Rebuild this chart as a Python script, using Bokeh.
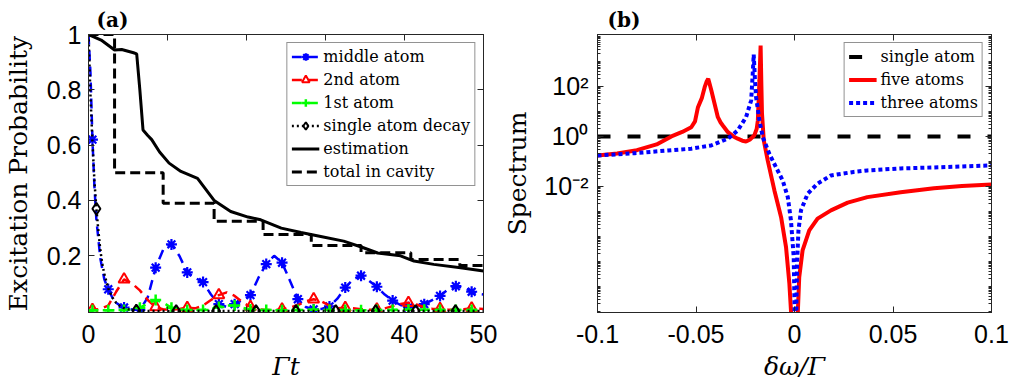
from bokeh.plotting import figure
from bokeh.layouts import row
from bokeh.models import (FixedTicker, LinearAxis, LogAxis, Legend, LegendItem,
                          Range1d)
from bokeh.embed import file_html
from bokeh.resources import INLINE

# ---------------- panel (a) data ----------------
t_mid = [0, 0.25, 0.5, 0.75, 1, 1.5, 2, 2.5, 3, 3.5, 4, 4.5, 5.5, 6.5, 7.5, 8.5, 9.5,
         10.5, 11.5, 12.5, 13.5, 14.5, 15.5, 16.5, 17.5, 18.5, 19.5, 20.5, 21.5, 22.5,
         23.5, 24.5, 25.5, 26.5, 27.5, 28.5, 29.5, 30.5, 31.5, 32.5, 33.5, 34.5, 35.5,
         36.5, 37.5, 38.5, 39.5, 40.5, 41.5, 42.5, 43.5, 44.5, 45.5, 46.5, 47.5, 48.5,
         49.5, 50]
p_mid = [1.0, 0.86, 0.62, 0.45, 0.33, 0.19, 0.115, 0.079, 0.05, 0.03, 0.02, 0.013,
         0.006, 0.004, 0.05, 0.157, 0.225, 0.241, 0.2, 0.14, 0.12, 0.105, 0.06, 0.025,
         0.015, 0.025, 0.04, 0.058, 0.12, 0.17, 0.2, 0.175, 0.11, 0.043, 0.015, 0.006,
         0.008, 0.017, 0.045, 0.085, 0.115, 0.128, 0.11, 0.088, 0.06, 0.038, 0.022,
         0.014, 0.016, 0.025, 0.04, 0.055, 0.078, 0.09, 0.085, 0.07, 0.062, 0.06]

t_side = [0, 0.5, 1.5, 2.5, 3.5, 4.5, 5.5, 6.5, 7.5, 8.5, 9.5, 10.5, 11.5, 12.5, 13.5,
          14.5, 15.5, 16.5, 17.5, 18.5, 19.5, 20.5, 21.5, 22.5, 23.5, 24.5, 25.5, 26.5,
          27.5, 28.5, 29.5, 30.5, 31.5, 32.5, 33.5, 34.5, 35.5, 36.5, 37.5, 38.5, 39.5,
          40.5, 41.5, 42.5, 43.5, 44.5, 45.5, 46.5, 47.5, 48.5, 49.5, 50]
p_2nd = [0.0, 0.005, 0.008, 0.02, 0.07, 0.115, 0.1, 0.075, 0.04, 0.015, 0.006, 0.005,
         0.008, 0.012, 0.01, 0.02, 0.04, 0.058, 0.068, 0.055, 0.032, 0.015, 0.007, 0.004,
         0.004, 0.006, 0.012, 0.022, 0.035, 0.043, 0.035, 0.02, 0.01, 0.012, 0.01, 0.007,
         0.005, 0.006, 0.01, 0.018, 0.026, 0.03, 0.024, 0.014, 0.009, 0.008, 0.006, 0.005,
         0.007, 0.01, 0.009, 0.008]
p_1st = [0.0, 0.003, 0.003, 0.003, 0.003, 0.004, 0.006, 0.012, 0.028, 0.04, 0.03, 0.012,
         0.006, 0.004, 0.004, 0.004, 0.008, 0.015, 0.02, 0.02, 0.012, 0.006, 0.004, 0.004,
         0.003, 0.003, 0.004, 0.004, 0.005, 0.005, 0.004, 0.004, 0.004, 0.004, 0.003,
         0.003, 0.004, 0.004, 0.004, 0.004, 0.005, 0.005, 0.005, 0.005, 0.004, 0.004,
         0.004, 0.004, 0.004, 0.004, 0.004, 0.004]

t_single = [0, 0.25, 0.5, 0.75, 1.0, 1.25, 1.5, 1.75, 2.0, 2.5, 3.0, 3.5, 4.0, 4.5, 5.0,
            6.05, 7.0, 8.0, 11.1, 16.15, 21.2, 26.25, 31.3, 36.35, 41.4, 46.45, 50]
p_single = [1.0, 0.78, 0.61, 0.47, 0.37, 0.29, 0.22, 0.17, 0.135, 0.082, 0.05, 0.03,
            0.018, 0.011, 0.007, 0.0024, 0.0009, 0.0003, 0, 0, 0, 0, 0, 0, 0, 0, 0]

t_est = [0, 1.6, 3.3, 4.2, 5.7, 6.1, 6.5, 6.9, 7.5, 8.0, 9.0, 10.2, 11.7, 13.8, 15.9,
         18.0, 20.2, 21.8, 24.4, 26.9, 29.4, 32.3, 34.8, 36.6, 39.5, 41.2, 43.7, 47.1, 50]
p_est = [1.0, 0.98, 0.944, 0.946, 0.934, 0.93, 0.8, 0.655, 0.635, 0.62, 0.575, 0.535,
         0.505, 0.48, 0.40, 0.36, 0.34, 0.33, 0.30, 0.284, 0.27, 0.253, 0.229, 0.21,
         0.2, 0.181, 0.169, 0.157, 0.145]

t_tot = [0, 3.3, 9.45, 15.9, 22.1, 28.2, 34.5, 40.8, 47.0, 50]
p_tot = [1.0, 0.5, 0.39, 0.325, 0.277, 0.237, 0.211, 0.187, 0.165, 0.165]

# marker positions (which samples carry a marker)
mk_every2 = [0.5, 2.5, 4.5, 6.5, 8.5, 10.5, 12.5, 14.5, 16.5, 18.5, 20.5, 22.5, 24.5,
             26.5, 28.5, 30.5, 32.5, 34.5, 36.5, 38.5, 40.5, 42.5, 44.5, 46.5, 48.5]
mk_every4 = [0.5, 4.5, 8.5, 12.5, 16.5, 20.5, 24.5, 28.5, 32.5, 36.5, 40.5, 44.5, 48.5]
mk_single = [1.0, 6.05, 11.1, 16.15, 21.2, 26.25, 31.3, 36.35, 41.4, 46.45]

x_ticks_a = [0, 10, 20, 30, 40, 50]
y_ticks_a = [0.2, 0.4, 0.6, 0.8, 1.0]
y_labels_a = ["0.2", "0.4", "0.6", "0.8", "1"]

# ---------------- panel (b) data ----------------
w_single = [-0.1, 0.1]
s_single = [1.0, 1.0]

w_five = [-0.1, -0.09, -0.08, -0.07, -0.0625, -0.057, -0.0524, -0.0505, -0.049, -0.047,
          -0.0456, -0.0447, -0.0438, -0.043, -0.0422, -0.041, -0.0389, -0.0375, -0.0362,
          -0.0338, -0.031, -0.0288, -0.0265, -0.0246, -0.0225, -0.0204, -0.0192,
          -0.0186, -0.0178, -0.0172, -0.0168, -0.0165, -0.0156, -0.0136, -0.0102,
          -0.0068, -0.0043, -0.0026, -0.0018, -0.0002, 0.0016, 0.0024, 0.0041, 0.0075,
          0.0117, 0.0185, 0.027, 0.037, 0.0539, 0.0708, 0.085, 0.1]
s_five = [0.174, 0.209, 0.282, 0.479, 1.0, 1.51, 2.34, 4.0, 14.8, 35.0, 93.3, 150.0,
          204.0, 120.0, 69.2, 28.0, 5.89, 3.6, 2.63, 1.48, 1.0, 0.813, 0.676, 0.631,
          0.759, 1.10, 2.0, 4.37, 174.0, 4365.0, 100.0, 8.13, 0.692, 0.110, 6.92e-3,
          5.89e-4, 3.72e-5, 1.29e-6, 1.10e-7, 1e-9, 6.3e-8, 2.34e-6, 2.75e-5, 1.74e-4,
          5.13e-4, 1.10e-3, 2.24e-3, 3.72e-3, 5.89e-3, 8.51e-3, 1.05e-2, 1.20e-2]

w_three = [-0.1, -0.09, -0.0811, -0.0642, -0.0524, -0.0423, -0.0338, -0.0288, -0.0246,
           -0.022, -0.0212, -0.0207, -0.0201, -0.0195, -0.0178, -0.0161, -0.0128,
           -0.0094, -0.006, -0.0034, -0.0018, -0.0004, 0.0005, 0.0013, 0.002, 0.0033,
           0.0067, 0.0117, 0.0185, 0.03, 0.037, 0.0539, 0.0708, 0.085, 0.1]
s_three = [0.174, 0.191, 0.214, 0.275, 0.324, 0.437, 0.813, 1.74, 5.89, 27.5, 324.0,
           1905.0, 200.0, 37.2, 4.37, 0.933, 0.204, 0.0589, 0.0174, 3.72e-3, 4.37e-4,
           1.48e-5, 1e-9, 8.13e-6, 1.74e-4, 1.10e-3, 5.13e-3, 0.0129, 0.0275, 0.038,
           0.0437, 0.0525, 0.0575, 0.063, 0.0692]

x_ticks_b = [-0.1, -0.05, 0, 0.05, 0.1]
x_labels_b = ["-0.1", "-0.05", "0", "0.05", "0.1"]
y_ticks_b = [1e-2, 1.0, 1e2]
y_labels_b = ["10\u207b\u00b2", "10\u2070", "10\u00b2"]

# ---------------- styling helpers ----------------
AXC = "#262626"
SANS = "Liberation Sans"
SERIF = "DejaVu Serif"
BLUE, RED, GREEN = "#0000ff", "#ff0000", "#00ff00"


def pick(ts, ps, tsel):
    d = dict(zip(ts, ps))
    return [d[t] for t in tsel]


def style_axis(ax, ticker, labels=None, standoff=8, show=True, lab_standoff=8):
    ax.ticker = ticker
    ax.axis_line_color = AXC
    ax.axis_line_width = 1
    ax.major_tick_line_color = AXC
    ax.minor_tick_line_color = AXC
    ax.major_tick_in = 6
    ax.major_tick_out = 0
    ax.minor_tick_in = 3
    ax.minor_tick_out = 0
    ax.major_label_text_font = SANS
    ax.major_label_text_font_size = "25px"
    ax.major_label_text_color = "black"
    ax.major_label_standoff = standoff
    ax.axis_label_text_font = SERIF
    ax.axis_label_text_font_size = "25px"
    ax.axis_label_text_font_style = "normal"
    ax.axis_label_text_color = "black"
    ax.axis_label_standoff = lab_standoff
    if labels is not None:
        ax.major_label_overrides = dict(zip(ticker.ticks, labels))
    if not show:
        ax.major_label_overrides = {tk: "" for tk in ticker.ticks}
        ax.major_label_text_font_size = "0px"
        ax.major_label_standoff = 0


def legend_style(leg):
    leg.location = "top_right"
    leg.margin = 8
    leg.padding = 4
    leg.spacing = 4
    leg.glyph_width = 28
    leg.glyph_height = 19
    leg.label_height = 19
    leg.label_standoff = 4
    leg.label_text_font = SERIF
    leg.label_text_font_size = "16px"
    leg.label_text_color = "black"
    leg.border_line_color = AXC
    leg.border_line_width = 1
    leg.background_fill_color = "white"
    leg.background_fill_alpha = 1.0


def style_title(p, text, offset):
    p.title.text = text
    p.title.text_font = SERIF
    p.title.text_font_style = "bold"
    p.title.text_font_size = "20px"
    p.title.text_color = "black"
    p.title.align = "left"
    p.title.offset = offset
    p.title.standoff = 6


# ---------------- panel (a) ----------------
p1 = figure(width=500, height=388, x_range=Range1d(0, 50),
            y_range=Range1d(-0.005, 1.0), output_backend="svg", toolbar_location=None,
            min_border_left=87, min_border_right=17, min_border_top=34,
            min_border_bottom=76)
p1.xgrid.visible = False
p1.ygrid.visible = False
p1.outline_line_color = AXC
p1.background_fill_color = "white"
p1.border_fill_color = "white"
style_title(p1, "(a)", 8)

xt_a = FixedTicker(ticks=x_ticks_a)
yt_a = FixedTicker(ticks=y_ticks_a)
style_axis(p1.xaxis[0], xt_a, standoff=12, lab_standoff=6)
style_axis(p1.yaxis[0], yt_a, labels=y_labels_a, standoff=7, lab_standoff=11)
p1.xaxis[0].axis_label = "Γt"
p1.xaxis[0].axis_label_text_font_style = "italic"
p1.yaxis[0].axis_label = "Excitation Probability"
top_a = LinearAxis()
style_axis(top_a, FixedTicker(ticks=x_ticks_a), show=False)
p1.add_layout(top_a, "above")
right_a = LinearAxis()
style_axis(right_a, FixedTicker(ticks=y_ticks_a), show=False)
p1.add_layout(right_a, "right")

dash = "10 6"
l_mid = p1.line(t_mid, p_mid, line_color=BLUE, line_width=2.5, line_dash=dash)
s_mid = p1.scatter(mk_every2, pick(t_mid, p_mid, mk_every2), marker="asterisk", size=11,
                   line_color=BLUE, line_width=2.2)
l_2nd = p1.line(t_side, p_2nd, line_color=RED, line_width=2.5, line_dash=dash)
s_2nd = p1.scatter(mk_every4, pick(t_side, p_2nd, mk_every4), marker="triangle", size=11,
                   line_color=RED, line_width=2, fill_alpha=0)
l_1st = p1.line(t_side, p_1st, line_color=GREEN, line_width=2.5, line_dash=dash)
s_1st = p1.scatter(mk_every2, pick(t_side, p_1st, mk_every2), marker="cross", size=11,
                   line_color=GREEN, line_width=2.5)
l_sgl = p1.line(t_single, p_single, line_color="black", line_width=2.5, line_dash="2 3")
s_sgl = p1.scatter(mk_single, pick(t_single, p_single, mk_single), marker="diamond",
                   size=12, line_color="black", line_width=2, fill_alpha=0)
l_est = p1.line(t_est, p_est, line_color="black", line_width=3)
l_tot = p1.step(t_tot, p_tot, mode="after", line_color="black", line_width=3,
                line_dash="10 5")

leg1 = Legend(items=[
    LegendItem(label="middle atom", renderers=[l_mid, s_mid]),
    LegendItem(label="2nd atom", renderers=[l_2nd, s_2nd]),
    LegendItem(label="1st atom", renderers=[l_1st, s_1st]),
    LegendItem(label="single atom decay", renderers=[l_sgl, s_sgl]),
    LegendItem(label="estimation", renderers=[l_est]),
    LegendItem(label="total in cavity", renderers=[l_tot]),
])
legend_style(leg1)
p1.add_layout(leg1)

# ---------------- panel (b) ----------------
p2 = figure(width=509, height=388, x_range=Range1d(-0.1, 0.1),
            y_range=Range1d(9e-8, 1.2e4), y_axis_type="log", output_backend="svg",
            toolbar_location=None, min_border_left=96, min_border_right=18,
            min_border_top=34, min_border_bottom=76)
p2.xgrid.visible = False
p2.ygrid.visible = False
p2.outline_line_color = AXC
p2.background_fill_color = "white"
p2.border_fill_color = "white"
style_title(p2, "(b)", 10)

minor_b = [m * 10.0 ** k for k in range(-8, 5) for m in range(1, 10)
           if not (m == 1 and k in (-2, 0, 2))]
xt_b = FixedTicker(ticks=x_ticks_b)
yt_b = FixedTicker(ticks=y_ticks_b, minor_ticks=minor_b)
style_axis(p2.xaxis[0], xt_b, labels=x_labels_b, standoff=12, lab_standoff=6)
style_axis(p2.yaxis[0], yt_b, labels=y_labels_b, standoff=9, lab_standoff=9)
p2.xaxis[0].axis_label = "δω/Γ"
p2.xaxis[0].axis_label_text_font_style = "italic"
p2.yaxis[0].axis_label = "Spectrum"
top_b = LinearAxis()
style_axis(top_b, FixedTicker(ticks=x_ticks_b), show=False)
p2.add_layout(top_b, "above")
right_b = LogAxis()
style_axis(right_b, FixedTicker(ticks=y_ticks_b, minor_ticks=minor_b), show=False)
p2.add_layout(right_b, "right")

r_sgl = p2.line(w_single, s_single, line_color="black", line_width=4, line_dash="13 17")
r_five = p2.line(w_five, s_five, line_color=RED, line_width=4)
r_three = p2.line(w_three, s_three, line_color=BLUE, line_width=4, line_dash="4 3")

leg2 = Legend(items=[
    LegendItem(label="single atom", renderers=[r_sgl]),
    LegendItem(label="five atoms", renderers=[r_five]),
    LegendItem(label="three atoms", renderers=[r_three]),
])
legend_style(leg2)
p2.add_layout(leg2)

layout = row(p1, p2)
open("out.html", "w").write(file_html(layout, INLINE))
